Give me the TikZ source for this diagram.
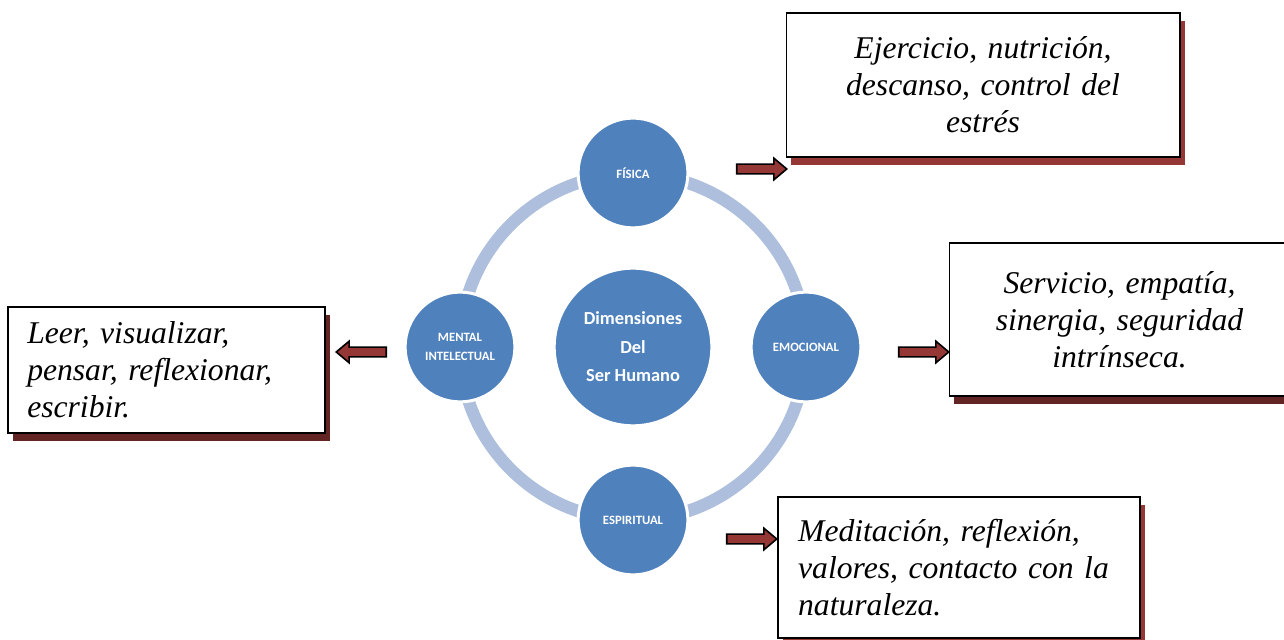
\documentclass[tikz,border=0pt]{standalone}
\usepackage{fontspec}
\setmainfont{Liberation Serif}
\newfontfamily\dimfont{Carlito}
\usetikzlibrary{shapes.arrows,shadows}
\definecolor{dblue}{HTML}{4F81BD}
\definecolor{dringc}{HTML}{ADBFDC}
\definecolor{dred}{HTML}{953735}
\definecolor{dmaroon}{HTML}{632523}
\tikzset{
  dcircle/.style={
    circle, fill=dblue, draw=white, line width=1.1pt, minimum size=#1,
    inner sep=0pt, text=white, align=center,
    font=\dimfont\bfseries\fontsize{4.7}{7}\selectfont},
  dcenter/.style={font=\dimfont\bfseries\fontsize{6.8}{10.5}\selectfont},
  dringpath/.style={draw=dringc, line width=4.6pt},
  dbox/.style={
    rectangle, draw=black, line width=0.7pt, fill=white, inner sep=0pt,
    font=\itshape\fontsize{11.7}{13.7}\selectfont,
    drop shadow={shadow xshift=1.85pt, shadow yshift=-2.95pt, fill=#1, opacity=1}},
  darrow/.style={
    single arrow, draw=black, fill=dred, line width=0.6pt, inner sep=0pt,
    inner ysep=1.5pt, minimum height=18.5pt, single arrow head extend=2.2pt,
    single arrow tip angle=80},
}
\begin{document}
\begin{tikzpicture}[x=0.013cm,y=-0.013cm]
\useasboundingbox (0,0) rectangle (1284,640);

\coordinate (ctr) at (633,347);
\draw[dringpath] (ctr) circle[radius=173];

\node[dcircle=58.3pt,dcenter] (centro) at (ctr) {Dimensiones\\Del\\Ser Humano};
\node[dcircle=40.6pt] (fisica) at (633,173) {FÍSICA};
\node[dcircle=40.6pt] (mental) at (460,347) {MENTAL\\INTELECTUAL};
\node[dcircle=40.6pt] (emocional) at (806,347) {EMOCIONAL};
\node[dcircle=40.6pt] (espiritual) at (633,520) {ESPIRITUAL};

\node[dbox=dred,minimum width=145.4pt,minimum height=53.1pt,text width=135pt,align=center]
  (bfis) at (983,85) {Ejercicio, nutrición,\\descanso, control del\\estrés};
\node[dbox=dmaroon,minimum width=125.8pt,minimum height=56.5pt,text width=118pt,align=center]
  (bemo) at (1119.5,319.5) {Servicio, empatía,\\sinergia, seguridad\\intrínseca.};
\node[dbox=dmaroon,minimum width=117pt,minimum height=46.5pt,text width=103pt,align=left]
  (bmen) at (166.5,370) {Leer, visualizar,\\pensar, reflexionar,\\escribir.};
\node[dbox=dred,minimum width=133.6pt,minimum height=52pt,text width=119pt,align=left]
  (besp) at (959,567.5) {Meditación, reflexión,\\valores, contacto con la\\naturaleza.};

\node[darrow,anchor=tip] (afis) at (788,169) {};
\node[darrow,anchor=tip] (aemo) at (950,352) {};
\node[darrow,anchor=tip,shape border rotate=180] (amen) at (335,352) {};
\node[darrow,anchor=tip] (aesp) at (778,539) {};

\end{tikzpicture}
\end{document}
